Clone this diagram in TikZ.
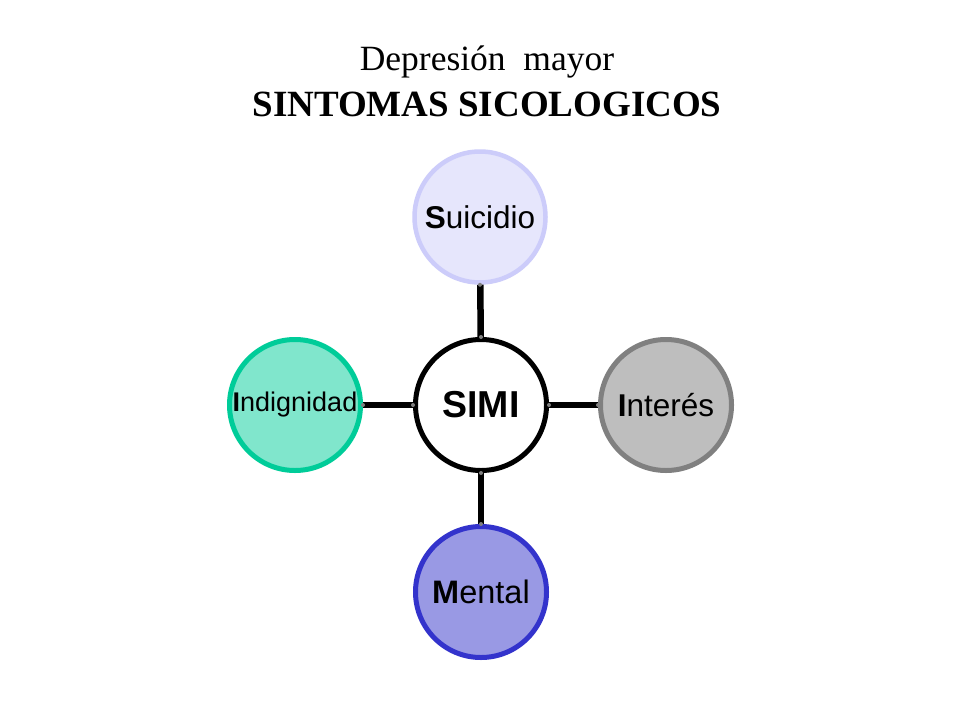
\documentclass[tikz,border=0pt]{standalone}
\usepackage{fontspec}
\setmainfont{Liberation Serif}
\newfontfamily\arialfont{Liberation Sans}
\definecolor{suifill}{RGB}{230,230,252}
\definecolor{suiline}{RGB}{204,204,250}
\definecolor{intfill}{RGB}{190,190,190}
\definecolor{intline}{RGB}{128,128,128}
\definecolor{menfill}{RGB}{153,153,228}
\definecolor{menline}{RGB}{51,51,204}
\definecolor{indfill}{RGB}{128,230,204}
\definecolor{indline}{RGB}{0,204,153}
\tikzset{
  bubble/.style={circle, minimum size=131pt, inner sep=0pt, line width=5pt, font=\arialfont},
  link/.style={line width=6.5pt, black},
  gluedot/.style={fill=gray, draw=none, circle, inner sep=0pt, minimum size=4pt},
}
\begin{document}
\begin{tikzpicture}[x=1pt,y=-1pt]
\useasboundingbox[fill=white] (0,0) rectangle (960,720);
\node[anchor=base, font=\fontsize{35.5}{40}\selectfont] (t1) at (487,70) {Depresión\ \ mayor};
\node[anchor=base, font=\fontsize{37}{40}\selectfont\bfseries] (t2) at (487,116) {SINTOMAS SICOLOGICOS};

\node[bubble, draw=black, fill=white, font=\arialfont\bfseries\fontsize{37.5}{40}\selectfont] (simi) at (481,405) {SIMI};
\node[bubble, draw=suiline, fill=suifill, line width=4.5pt, font=\arialfont\fontsize{31.5}{34}\selectfont] (sui) at (480,217) {\textbf{S}uicidio};
\node[bubble, draw=intline, fill=intfill, font=\arialfont\fontsize{31.5}{34}\selectfont] (int) at (666,405) {\textbf{I}nterés};
\node[bubble, draw=menline, fill=menfill, font=\arialfont\fontsize{32.5}{34}\selectfont] (men) at (481,592) {\textbf{M}ental};
\node[bubble, draw=indline, fill=indfill, font=\arialfont\fontsize{27}{30}\selectfont] (ind) at (295,405) {\textbf{I}ndignidad};

\draw[link] (sui) -- (simi);
\draw[link] (simi) -- (int);
\draw[link] (simi) -- (men);
\draw[link] (ind) -- (simi);

\node[gluedot] (g1) at (sui.south) {};
\node[gluedot] (g2) at (simi.north) {};
\node[gluedot] (g3) at (simi.south) {};
\node[gluedot] (g4) at (men.north) {};
\node[gluedot] (g5) at (simi.east) {};
\node[gluedot] (g6) at (int.west) {};
\node[gluedot] (g7) at (simi.west) {};
\node[gluedot] (g8) at (ind.east) {};
\end{tikzpicture}
\end{document}
